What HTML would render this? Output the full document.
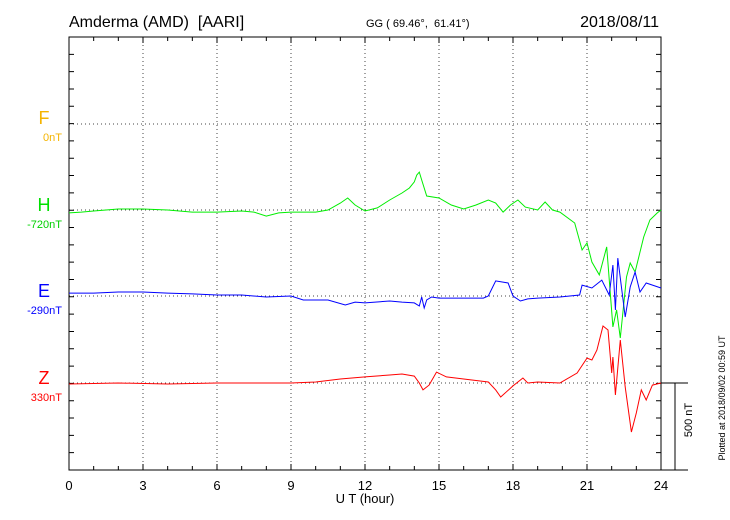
<!DOCTYPE html>
<html><head><meta charset="utf-8"><style>
html,body{margin:0;padding:0;background:#fff;}
svg{display:block;font-family:"Liberation Sans",sans-serif;}
</style></head><body>
<svg id="chart" width="730" height="520" viewBox="0 0 730 520">
<text x="69" y="27" font-size="16">Amderma (AMD)&#160; [AARI]</text>
<text x="366" y="27" font-size="11">GG ( 69.46°,&#160; 61.41°)</text>
<text x="659" y="27" font-size="16" text-anchor="end">2018/08/11</text>
<g id="grid"></g>
<g id="axes"></g>
<g id="series"></g>
<text x="44" y="124" font-size="18" fill="#f5b400" text-anchor="middle">F</text>
<text x="62" y="141" font-size="11" fill="#f5b400" text-anchor="end">0nT</text>
<text x="44" y="211" font-size="18" fill="#00e000" text-anchor="middle">H</text>
<text x="62" y="228" font-size="11" fill="#00d000" text-anchor="end">-720nT</text>
<text x="44" y="297" font-size="18" fill="#0000ff" text-anchor="middle">E</text>
<text x="62" y="314" font-size="11" fill="#0000ff" text-anchor="end">-290nT</text>
<text x="44" y="384" font-size="18" fill="#ff0000" text-anchor="middle">Z</text>
<text x="62" y="401" font-size="11" fill="#ff0000" text-anchor="end">330nT</text>
<text x="365" y="503" font-size="13" text-anchor="middle">U T (hour)</text>
<text transform="translate(692,420) rotate(-90)" font-size="11" text-anchor="middle">500 nT</text>
<text transform="translate(725,398) rotate(-90)" font-size="9" text-anchor="middle">Plotted at 2018/09/02 00:59 UT</text>
</svg>
<script>
const xTicks=[0,3,6,9,12,15,18,21,24];
const hHours=[0,0.5,1,1.5,2,3,4,5,6,7,7.5,8,8.5,9,10,10.5,11,11.3,11.6,12,12.5,13,13.5,13.8,14,14.1,14.2,14.3,14.5,15,15.5,16,16.5,17,17.3,17.6,17.9,18.2,18.5,19,19.3,19.6,19.9,20.5,20.8,21.0,21.2,21.5,21.8,22.05,22.2,22.35,22.6,22.75,22.95,23.3,23.55,23.85,24];
const hValues=[-17,-12,-6,0,6,6,0,-12,-12,-6,-12,-35,-17,-12,-12,0,40,69,29,-6,12,58,98,127,162,202,219,173,81,69,29,6,29,58,40,-12,29,58,17,0,46,0,-12,-75,-231,-190,-300,-375,-213,-675,-577,-739,-387,-306,-358,-156,-58,-17,0];
const eHours=[0,1,2,3,4,5,6,7,8,9,9.5,10.5,11.2,11.6,12,13,13.5,14,14.2,14.3,14.4,14.5,14.7,15,16,16.8,17,17.3,17.8,18,18.3,18.6,19,19.9,20.7,20.8,21.2,21.6,21.9,22.05,22.15,22.25,22.55,22.75,22.95,23.15,23.4,24];
const eValues=[17,17,23,23,17,12,6,6,-6,0,-23,-23,-52,-35,-40,-29,-35,-40,-58,-6,-69,-23,-6,-12,-12,-12,0,87,75,0,-29,-17,-12,-6,6,63,46,92,6,179,-81,219,-121,52,138,23,75,46];
const zHours=[0,2,4,6,8,9,10,11,12,13,13.5,14,14.2,14.35,14.6,14.9,15.3,16,17,17.3,17.5,18,18.4,18.6,19,19.9,20.6,21,21.2,21.4,21.65,21.85,22.0,22.05,22.15,22.35,22.55,22.8,23.0,23.2,23.4,23.65,24];
const zValues=[-6,0,-6,0,0,0,6,23,35,46,52,40,0,-40,-12,63,35,23,6,-40,-81,-17,29,0,6,0,58,144,133,190,329,306,58,150,-69,248,-23,-283,-173,-40,-98,-12,0];
const NS='http://www.w3.org/2000/svg';
const X0=69,X1=661,Y0=37,Y1=470;
const PXNT=433/2500;
function xs(h){return X0+(X1-X0)*h/24;}
function ys(base,v){return base-v*PXNT;}
function mk(tag,attrs,parent){const e=document.createElementNS(NS,tag);for(const k in attrs)e.setAttribute(k,attrs[k]);parent.appendChild(e);return e;}
const grid=document.getElementById('grid'),axes=document.getElementById('axes'),series=document.getElementById('series');
const baselines=[124,210,296,383];
baselines.forEach(function(b){
 const l=mk('line',{x1:X0,x2:X1,y1:b,y2:b,stroke:'#444','stroke-width':1,'stroke-dasharray':'1,3'},grid);
 
 
});
xTicks.forEach(function(t){
 if(t>0&&t<24){
  const l=mk('line',{x1:xs(t),x2:xs(t),y1:Y0,y2:Y1,stroke:'#444','stroke-width':1,'stroke-dasharray':'1,3'},grid);
  
  
 }
 const tx=mk('text',{x:xs(t),y:490,'font-size':13,'text-anchor':'middle'},axes);
 tx.textContent=t;
 
 
});
const fr=mk('rect',{x:X0,y:Y0,width:X1-X0,height:Y1-Y0,fill:'none',stroke:'#000','stroke-width':1},axes);


let d='';
for(let i=1;i<24;i++){const x=xs(i);const L=(i%3==0)?6:4;d+='M'+x+' '+Y0+'v'+L+'M'+x+' '+Y1+'v-'+L;}
for(let j=1;j<25;j++){const y=Y0+j*(Y1-Y0)/25;d+='M'+X0+' '+y+'h5M'+X1+' '+y+'h-5';}
const tk=mk('path',{d:d,stroke:'#000','stroke-width':1,fill:'none'},axes);


const sb=mk('path',{d:'M'+X1+' 383H688M675 383V470M'+X1+' 470H688',stroke:'#000','stroke-width':1,fill:'none'},axes);


function line(hours,vals,base,color,name){
 const pts=hours.map(function(h,i){return xs(h).toFixed(1)+','+ys(base,vals[i]).toFixed(1);}).join(' ');
 const p=mk('polyline',{points:pts,fill:'none',stroke:color,'stroke-width':1},series);
 
 
}
line(hHours,hValues,210,'#00ee00','h-series');
line(eHours,eValues,296,'#0000ff','e-series');
line(zHours,zValues,383,'#ff0000','z-series');
</script>
</body></html>
